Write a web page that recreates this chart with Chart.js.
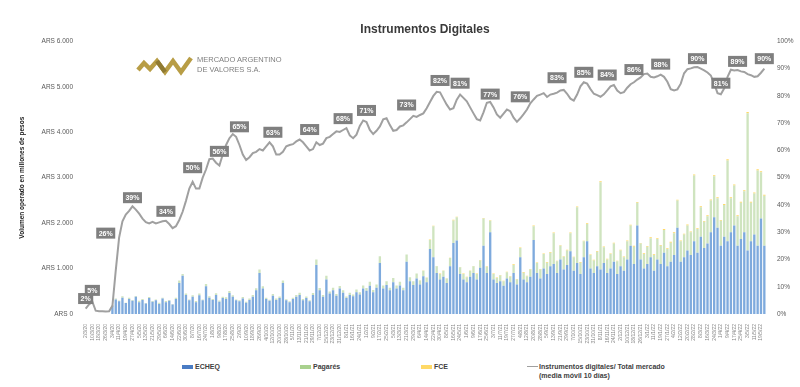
<!DOCTYPE html>
<html lang="es">
<head>
    <meta charset="UTF-8">
    <title>Instrumentos Digitales</title>
    <script src="https://cdn.jsdelivr.net/npm/chart.js"></script>
    <style>
        body {
            margin: 0;
            padding: 0;
            background-color: #fff;
            font-family: 'Liberation Sans', Arial, sans-serif;
        }

        #wrap {
            position: relative;
            width: 800px;
            height: 387px;
            overflow: hidden;
        }

        #chartBox {
            position: absolute;
            left: 0;
            top: 0;
            width: 800px;
            height: 352px;
        }

        .logo {
            position: absolute;
            left: 136px;
            top: 55px;
        }

        .logo-text {
            position: absolute;
            left: 197px;
            top: 55px;
            font-size: 7.5px;
            line-height: 10px;
            color: #7f7f7f;
        }

        .leg {
            position: absolute;
            top: 362px;
            font-size: 7px;
            font-weight: bold;
            color: #404040;
            line-height: 9px;
        }

        .sw {
            position: absolute;
            width: 11px;
            height: 4px;
            top: 3px;
        }
    </style>
</head>
<body>
<div id="wrap">
    <div id="chartBox"><canvas id="grafico"></canvas></div>

    <svg class="logo" width="58" height="22" viewBox="0 0 58 22">
        <polyline points="2,15 8,8 14,14 21,6 29,17 37,6 45,17 55,3" fill="none" stroke="#b89d45" stroke-width="4.5" stroke-linejoin="miter"/>
        <polyline points="21,6 29,17" fill="none" stroke="#8f7a32" stroke-width="4.5"/>
    </svg>
    <div class="logo-text">MERCADO ARGENTINO<br>DE VALORES S.A.</div>

    <!-- legend -->
    <div class="leg" style="left:182px"><span class="sw" style="left:0;background:#4a7cc4"></span><span style="margin-left:13px">ECHEQ</span></div>
    <div class="leg" style="left:300px"><span class="sw" style="left:0;background:#a9d18e"></span><span style="margin-left:13px">Pagarés</span></div>
    <div class="leg" style="left:421px"><span class="sw" style="left:0;background:#ffd966"></span><span style="margin-left:13px">FCE</span></div>
    <div class="leg" style="left:527px"><span class="sw" style="left:0;height:1px;top:4px;background:#a0a0a0"></span><div style="margin-left:12px">Instrumentos digitales/ Total mercado<br>(media móvil 10 días)</div></div>
</div>

<script>
    // volumen diario (millones de pesos), cada punto = 4 dias
    const echeq = [
        0, 0, 0, 0, 0, 0, 0, 0,
        180, 320, 280, 360, 240, 330, 290, 380, 260, 310, 230, 350, 270, 300, 220, 340, 260, 290, 210, 330,
        680, 840, 420, 300, 380, 260, 410, 300, 610, 360, 310, 420, 270, 350, 330, 460, 380, 300, 280, 340,
        250, 310, 380, 520, 900, 560, 330, 290, 400, 310, 350, 680, 300, 260, 330, 380, 420, 300, 350, 280,
        420, 1080, 520, 380, 760, 450, 520, 400, 560, 470, 350, 420, 390, 480, 430, 560, 510, 620, 480, 580,
        1120, 560, 640, 520, 700, 560, 630, 520, 1150, 720, 640, 780, 650, 830, 700, 1430, 1250, 900, 760, 820,
        680, 1050, 1560, 1620, 880, 760, 700, 820, 900, 760, 1020, 1500, 900, 1800, 760, 680, 720, 620, 780, 700,
        900, 650, 1250, 760, 700, 820, 1630, 900, 780, 1000, 880, 1050, 1100, 900, 1200, 980, 1080, 1380, 950, 1120,
        880, 1250, 1600, 1000, 900, 1050, 980, 1120, 900, 1000, 1150, 880, 1050, 950, 1200, 1500, 1100, 1950, 1200, 1000,
        1100, 1250, 950, 1200, 1100, 1350, 1050, 1150, 1300, 1900, 1150, 1250, 1400, 1300, 1600, 1350, 1700, 1450, 1550, 1800,
        2130, 1900, 1500, 1700, 1600, 1800, 1950, 1500, 1650, 1800, 1400, 1600, 1750, 1500, 2100, 1500
    ];

    const pagares = [
        0, 0, 0, 0, 0, 0, 0, 0,
        10, 20, 15, 30, 10, 25, 20, 15, 30, 20, 10, 25, 15, 20, 30, 15, 25, 20, 10, 30,
        60, 40, 30, 20, 35, 25, 40, 20, 50, 30, 20, 35, 25, 30, 40, 45, 30, 20, 25, 35,
        20, 30, 40, 45, 80, 50, 30, 25, 40, 30, 35, 60, 25, 20, 30, 40, 45, 30, 35, 25,
        40, 120, 50, 40, 80, 45, 60, 40, 55, 50, 35, 45, 40, 60, 50, 70, 60, 90, 50, 70,
        150, 70, 80, 60, 90, 70, 80, 60, 160, 90, 80, 110, 90, 120, 100, 200, 680, 150, 120, 130,
        100, 180, 500, 510, 150, 120, 110, 130, 150, 120, 160, 600, 140, 250, 120, 110, 130, 100, 140, 120,
        180, 110, 200, 150, 130, 160, 300, 220, 200, 320, 250, 300, 680, 260, 300, 280, 320, 400, 300, 1230,
        250, 350, 380, 300, 280, 320, 1920, 350, 300, 320, 400, 280, 350, 300, 400, 450, 380, 500, 350, 320,
        380, 420, 350, 450, 400, 500, 380, 420, 480, 600, 450, 500, 550, 500, 1450, 520, 650, 580, 600, 700,
        900, 650, 550, 700, 1780, 750, 880, 650, 800, 900, 3020, 850, 900, 1660, 1020, 1100
    ];

    const fce = [
        0, 0, 0, 0, 0, 0, 0, 0, 0, 0, 0, 0, 0, 0, 0, 0, 0, 0, 0, 0,
        0, 0, 0, 0, 0, 0, 0, 0, 0, 0, 0, 0, 0, 0, 0, 0, 0, 0, 0, 0,
        0, 0, 0, 0, 0, 0, 0, 0, 0, 0, 0, 0, 0, 0, 0, 0, 0, 0, 0, 0,
        0, 0, 0, 0, 0, 0, 0, 0, 0, 0, 0, 0, 0, 0, 0, 0, 0, 0, 0, 0,
        0, 0, 0, 0, 0, 0, 0, 0, 0, 0, 0, 0, 0, 0, 0, 0, 0, 0, 0, 0,
        5, 8, 6, 10, 12, 7, 9, 6, 8, 10, 12, 9, 7, 11, 8, 10, 9, 12, 8, 14,
        10, 12, 9, 11, 8, 13, 10, 12, 14, 9, 11, 15, 10, 12, 16, 11, 13, 10, 14, 12,
        15, 12, 14, 11, 16, 13, 12, 18, 14, 15, 17, 12, 14, 16, 20, 13, 15, 14, 18, 12,
        16, 14, 18, 15, 20, 17, 14, 19, 16, 18, 15, 20, 17, 22, 16, 18, 21, 17, 19, 16,
        20, 18, 22, 19, 24, 17, 21, 18, 25, 20, 19, 22, 26, 18, 21, 24, 20, 23, 28, 19, 22, 25, 21, 24
    ];

    // instrumentos digitales / total mercado (%), media movil 10 dias
    const ratio = [
        2, 3.5, 4.5, 1.2, 1, 1, 0.9, 1, 3, 16,
        28, 34, 36.5, 37.8, 39.5, 38.3, 36.8, 35, 33.7, 33.2,
        33.8, 33.2, 33.6, 34, 34.2, 33, 31.5, 32.2, 34.5, 37.5,
        41.5, 46, 48.5, 46, 46, 50, 53, 56.8, 57, 55.5,
        54.5, 58.5, 62, 64.5, 66, 65, 62, 58.5, 56.5, 57.5,
        59, 59.5, 60.5, 60, 61.5, 63, 61.5, 58.5, 58.5, 59.5,
        61.5, 62, 62.3, 63.3, 64, 63, 61.5, 60, 60.5, 63,
        62, 62.5, 64.5, 65, 66, 67, 66.8, 67.5, 68.2, 65.5,
        64.5, 65.8, 69, 71, 70.4, 67.5, 66, 67.2, 68.8, 71.4,
        71.8, 69.3, 67.2, 67.5, 68.8, 69.2, 70.3, 71.5, 72.7, 72.3,
        73, 73.6, 75.5, 77.8, 80, 81.5, 81.3, 79, 76.8, 75,
        75.5, 78.6, 80.5, 79.3, 78, 75.8, 73.6, 71.5, 71, 74,
        77.5, 77.8, 75.8, 73.2, 72, 73.5, 75, 74.4, 72, 70.5,
        71.8, 73.3, 75, 77.3, 78.7, 80, 80.5, 81, 79.6, 80.5,
        80.8, 81.2, 82, 82.2, 80.8, 79, 78.3, 80.5, 83.5, 85,
        84.5, 82.5, 80.8, 80.3, 79.7, 80.6, 82, 83.5, 84, 82,
        81, 81.4, 83, 84.3, 85, 86, 86.8, 88, 88.2, 87,
        86.8, 87.2, 87.8, 87, 85.2, 82.5, 82, 82.4, 84.5, 88.3,
        89.8, 90.1, 90.5, 90.6, 90, 89.4, 88.6, 87.5, 84.5, 81,
        80.6, 82.8, 87, 89.6, 89.3, 89.5, 89, 88.8, 88, 87.6,
        87, 87.2, 88.5, 90
    ];

    // etiquetas mensuales sobre la linea
    const labelIdx = [0, 2, 6, 14, 24, 32, 40, 46, 56, 67, 77, 84, 96, 106, 112, 121, 130, 141, 149, 156, 164, 172, 183, 190, 195, 203];
    const labelPct = [2, 5, 26, 39, 34, 50, 56, 65, 63, 64, 68, 71, 73, 82, 81, 77, 76, 83, 85, 84, 86, 88, 90, 81, 89, 90];

    // fechas (cada 4 dias desde 2/3/20)
    const fechas = [];
    const inicio = new Date(2020, 2, 2);
    for (let i = 0; i < echeq.length; i++) {
        const d = new Date(inicio.getTime());
        d.setDate(d.getDate() + i * 4);
        fechas.push(d.getDate() + '/' + (d.getMonth() + 1) + '/' + String(d.getFullYear()).slice(2));
    }

    const FONT = "'Liberation Sans', Arial, sans-serif";

    // cajas grises con el %
    const etiquetas = {
        id: 'etiquetas',
        afterDatasetsDraw(chart) {
            const ctx = chart.ctx;
            const xs = chart.scales.x;
            const ys = chart.scales.y1;
            ctx.save();
            ctx.font = 'bold 7px ' + FONT;
            ctx.textAlign = 'center';
            ctx.textBaseline = 'middle';
            labelIdx.forEach((idx, k) => {
                const txt = labelPct[k] + '%';
                const x = xs.getPixelForValue(idx);
                const y = ys.getPixelForValue(labelPct[k]) - 10;
                const w = ctx.measureText(txt).width + 5;
                ctx.fillStyle = '#7f7f7f';
                ctx.fillRect(x - w / 2, y - 5.5, w, 11);
                ctx.fillStyle = '#fff';
                ctx.fillText(txt, x, y + 0.5);
            });
            ctx.restore();
        }
    };

    new Chart(document.getElementById('grafico'), {
        type: 'bar',
        data: {
            labels: fechas,
            datasets: [{
                type: 'line',
                label: 'Instrumentos digitales/ Total mercado (media móvil 10 días)',
                data: ratio,
                yAxisID: 'y1',
                borderColor: '#a0a0a0',
                borderWidth: 2,
                pointRadius: 0,
                tension: 0,
                order: 0
            }, {
                label: 'ECHEQ',
                data: echeq,
                backgroundColor: '#7eaadd',
                yAxisID: 'y',
                barPercentage: 0.7,
                categoryPercentage: 1,
                order: 1
            }, {
                label: 'Pagarés',
                data: pagares,
                backgroundColor: '#cfe4bf',
                yAxisID: 'y',
                barPercentage: 0.7,
                categoryPercentage: 1,
                order: 1
            }, {
                label: 'FCE',
                data: fce,
                backgroundColor: '#ffd966',
                yAxisID: 'y',
                barPercentage: 0.7,
                categoryPercentage: 1,
                order: 1
            }]
        },
        options: {
            responsive: true,
            maintainAspectRatio: false,
            animation: false,
            layout: { padding: { left: 14, right: 4, top: 4, bottom: 4 } },
            plugins: {
                legend: { display: false },
                tooltip: { enabled: false },
                title: {
                    display: true,
                    text: 'Instrumentos Digitales',
                    fullSize: false,
                    color: '#3a3a3a',
                    font: { family: FONT, size: 12, weight: 'bold' },
                    padding: { top: 18, bottom: 5 }
                }
            },
            scales: {
                x: {
                    stacked: true,
                    grid: { display: false },
                    border: { display: false },
                    ticks: {
                        autoSkip: false,
                        minRotation: 90,
                        maxRotation: 90,
                        padding: 2,
                        color: '#8a8a8a',
                        font: { family: FONT, size: 5 },
                        callback: (v, i) => i % 2 === 0 ? fechas[i] : ''
                    },
                    afterFit: s => { s.height = 34; }
                },
                y: {
                    position: 'left',
                    stacked: true,
                    min: 0,
                    max: 6000,
                    grid: { display: false },
                    border: { display: false },
                    ticks: {
                        stepSize: 1000,
                        color: '#595959',
                        font: { family: FONT, size: 6.5 },
                        callback: v => 'ARS ' + v.toLocaleString('de-DE')
                    },
                    title: {
                        display: true,
                        text: 'Volumen operado en millones de pesos',
                        color: '#1a1a1a',
                        font: { family: FONT, size: 6.5, weight: 'bold' },
                        padding: 4
                    },
                    afterFit: s => { s.width = 70; }
                },
                y1: {
                    position: 'right',
                    min: 0,
                    max: 100,
                    grid: { display: false },
                    border: { display: false },
                    ticks: {
                        stepSize: 10,
                        color: '#595959',
                        font: { family: FONT, size: 6.5 },
                        callback: v => v + '%'
                    },
                    afterFit: s => { s.width = 30; }
                }
            }
        },
        plugins: [etiquetas]
    });
</script>
</body>
</html>
